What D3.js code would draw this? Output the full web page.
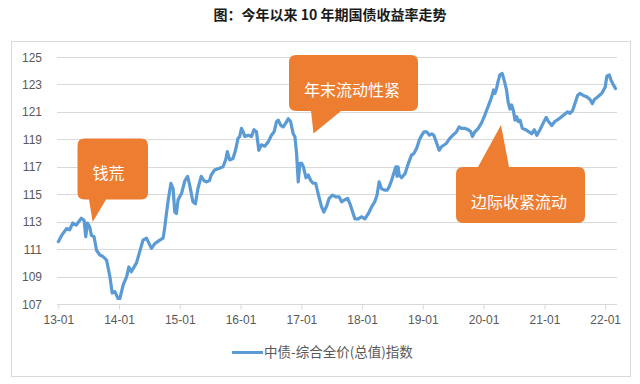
<!DOCTYPE html>
<html><head><meta charset="utf-8">
<script src="https://cdn.jsdelivr.net/npm/d3@7"></script>
<style>
html,body{margin:0;padding:0;background:#fff;}
svg{display:block;font-family:"Noto Sans CJK SC","Liberation Sans",sans-serif;}
</style></head>
<body>
<svg id="c" width="640" height="384"></svg>
<script>
const title = "图：今年以来 10 年期国债收益率走势";
const seriesName = "中债-综合全价(总值)指数";
const yTicks = [107,109,111,113,115,117,119,121,123,125];
const xTickYears = ["2013-01-01","2014-01-01","2015-01-01","2016-01-01","2017-01-01","2018-01-01","2019-01-01","2020-01-01","2021-01-01","2022-01-01"];
const dates = ["2013-01-01","2013-01-21","2013-02-20","2013-03-10","2013-03-29","2013-04-19","2013-05-19","2013-06-05","2013-06-15","2013-06-25","2013-07-09","2013-07-19","2013-08-04","2013-08-19","2013-09-08","2013-09-27","2013-10-18","2013-11-07","2013-11-21","2013-12-07","2013-12-26","2014-01-06","2014-01-26","2014-02-16","2014-03-01","2014-03-16","2014-04-16","2014-05-05","2014-05-25","2014-06-15","2014-07-15","2014-08-04","2014-09-03","2014-09-23","2014-10-03","2014-10-13","2014-10-24","2014-11-09","2014-11-22","2014-12-02","2014-12-12","2014-12-22","2015-01-12","2015-02-01","2015-02-17","2015-03-01","2015-03-21","2015-04-05","2015-04-20","2015-05-10","2015-05-26","2015-06-10","2015-06-29","2015-07-09","2015-07-29","2015-08-28","2015-09-18","2015-10-04","2015-10-14","2015-10-28","2015-11-17","2015-12-02","2015-12-17","2015-12-27","2016-01-07","2016-01-17","2016-01-27","2016-02-16","2016-03-07","2016-03-22","2016-04-06","2016-04-20","2016-05-06","2016-05-26","2016-06-15","2016-07-05","2016-07-21","2016-08-05","2016-08-15","2016-08-31","2016-09-14","2016-09-30","2016-10-14","2016-10-28","2016-11-13","2016-11-23","2016-12-03","2016-12-13","2016-12-23","2017-01-03","2017-01-13","2017-01-29","2017-02-12","2017-02-26","2017-03-12","2017-03-28","2017-04-11","2017-05-02","2017-05-16","2017-06-01","2017-06-17","2017-07-07","2017-07-27","2017-08-16","2017-08-31","2017-09-20","2017-10-06","2017-10-20","2017-11-05","2017-11-19","2017-12-09","2017-12-29","2018-01-18","2018-02-08","2018-02-28","2018-03-18","2018-04-01","2018-04-13","2018-04-28","2018-05-17","2018-06-01","2018-06-13","2018-06-27","2018-07-07","2018-07-23","2018-07-30","2018-08-05","2018-08-12","2018-08-26","2018-09-16","2018-10-06","2018-10-25","2018-11-09","2018-11-25","2018-12-11","2018-12-25","2019-01-09","2019-01-24","2019-02-10","2019-02-24","2019-03-08","2019-03-23","2019-04-09","2019-04-23","2019-05-22","2019-06-12","2019-07-01","2019-07-22","2019-08-07","2019-08-21","2019-09-10","2019-10-01","2019-10-16","2019-10-26","2019-11-10","2019-11-30","2019-12-20","2020-01-05","2020-01-19","2020-02-04","2020-02-19","2020-03-01","2020-03-09","2020-03-19","2020-03-28","2020-04-08","2020-04-22","2020-05-04","2020-05-18","2020-05-28","2020-06-08","2020-06-18","2020-06-28","2020-07-08","2020-07-18","2020-07-27","2020-08-07","2020-08-21","2020-09-10","2020-09-30","2020-10-16","2020-11-01","2020-11-16","2020-12-05","2020-12-25","2021-01-11","2021-01-25","2021-02-14","2021-03-04","2021-03-24","2021-04-14","2021-05-04","2021-05-20","2021-06-03","2021-06-19","2021-07-03","2021-07-19","2021-08-02","2021-08-22","2021-09-12","2021-10-02","2021-10-16","2021-10-28","2021-11-18","2021-12-11","2022-01-01","2022-01-11","2022-01-25","2022-02-06","2022-02-20","2022-03-04"];
const values = [111.54,112.0,112.5,112.4,112.9,112.75,113.25,113.1,111.9,112.9,112.6,112.0,111.9,110.9,110.57,110.45,110.2,109.0,107.8,107.9,107.4,107.4,108.4,109.0,109.7,109.35,110.0,110.8,111.65,111.8,111.05,111.4,111.65,111.8,112.6,113.6,114.6,115.8,115.4,113.7,113.6,114.6,115.07,116.0,116.3,115.7,114.45,114.3,115.4,116.3,116.0,115.9,116.0,116.4,116.76,116.9,117.0,117.5,118.1,117.5,117.6,118.2,119.07,119.2,119.8,119.55,119.2,119.3,119.2,119.7,119.55,118.2,118.6,118.5,118.8,119.3,119.55,120.3,120.4,120.0,119.9,120.2,120.5,120.3,119.4,119.2,118.0,115.9,117.25,117.25,117.0,116.2,116.4,116.0,115.8,115.8,115.07,114.1,113.7,114.1,114.7,114.94,114.8,114.8,114.45,114.6,114.7,114.3,113.7,113.2,113.2,113.36,113.2,113.6,114.1,114.45,114.94,115.9,115.4,115.3,115.3,115.55,116.0,116.4,117.0,116.3,117.0,116.4,116.2,116.5,117.25,117.85,117.98,118.35,118.95,119.3,119.55,119.55,119.3,119.4,119.3,118.8,118.2,118.46,118.7,119.07,119.3,119.55,119.9,119.8,119.8,119.7,119.55,119.2,119.55,119.8,120.2,120.65,121.1,121.6,122.1,122.6,122.35,122.7,123.2,123.7,123.8,123.3,122.6,121.7,121.2,121.5,121.1,120.4,120.65,120.3,120.4,119.8,119.7,119.55,119.4,119.7,119.3,119.7,120.2,120.6,120.3,120.0,120.3,120.45,120.65,120.85,121.0,120.9,121.1,121.6,122.2,122.35,122.2,122.1,121.9,121.6,121.9,122.1,122.35,122.8,123.6,123.7,123.3,122.95,122.7];
const callouts = [
  {text:"钱荒"},
  {text:"年末流动性紧"},
  {text:"边际收紧流动"}
];

const parse = d3.timeParse("%Y-%m-%d");
const data = dates.map((d,i)=>({date:parse(d), value:values[i]}));
const svg = d3.select("#c");

// outer frame
svg.append("rect").attr("x",11.5).attr("y",41.5).attr("width",619).attr("height",335)
  .attr("fill","none").attr("stroke","#d9d9d9").attr("stroke-width",1);

// title
svg.append("text").attr("x",330).attr("y",20).attr("text-anchor","middle")
  .attr("font-size",14).attr("font-weight","bold").attr("fill","#1a1a1a").text(title);

const x = d3.scaleTime().domain([parse("2013-01-01"), parse("2022-03-13")]).range([58.3, 617]);
const y = d3.scaleLinear().domain([107,125]).range([304,57]);

// gridlines
svg.append("g").selectAll("line").data(yTicks.slice(1)).join("line")
  .attr("x1",57).attr("x2",617).attr("y1",d=>Math.round(y(d))+0.5).attr("y2",d=>Math.round(y(d))+0.5)
  .attr("stroke","#d9d9d9").attr("stroke-width",1);

// y labels
svg.append("g").selectAll("text").data(yTicks).join("text")
  .attr("x",42).attr("y",d=>y(d)+4.5).attr("text-anchor","end")
  .attr("font-size",12).attr("fill","#595959").attr("font-family","Liberation Sans, Arial, sans-serif").text(d=>d);

// x axis
const xAxis = d3.axisBottom(x).tickValues(xTickYears.map(parse)).tickFormat(d3.timeFormat("%y-%m")).tickSizeInner(5).tickSizeOuter(0).tickPadding(6);
const gx = svg.append("g").attr("transform",`translate(0,${Math.round(y(107))+0.5})`).call(xAxis);
gx.select(".domain").attr("stroke","#d9d9d9").attr("d","M57,0H617");
gx.selectAll(".tick line").attr("stroke","#d9d9d9");
gx.selectAll(".tick text").attr("fill","#595959").attr("font-size",12).attr("font-family","Liberation Sans, Arial, sans-serif");

// line
const line = d3.line().x(d=>x(d.date)).y(d=>y(d.value));
svg.append("path").datum(data).attr("d",line).attr("fill","none")
  .attr("stroke","#5b9bd5").attr("stroke-width",3.2).attr("stroke-linejoin","round").attr("stroke-linecap","round");

// callouts
function bubble(x0,y0,x1,y1,r,tail){ // tail: {side, a, b, tx, ty}
  let p = `M${x0+r},${y0}`;
  if(tail.side==="top"){ p += `H${tail.a}L${tail.tx},${tail.ty}L${tail.b},${y0}`; }
  p += `H${x1-r}Q${x1},${y0} ${x1},${y0+r}V${y1-r}Q${x1},${y1} ${x1-r},${y1}`;
  if(tail.side==="bottom"){ p += `H${tail.b}L${tail.tx},${tail.ty}L${tail.a},${y1}`; }
  p += `H${x0+r}Q${x0},${y1} ${x0},${y1-r}V${y0+r}Q${x0},${y0} ${x0+r},${y0}Z`;
  return p;
}
const shapes = [
  {box:[77.5,138.5,148,199.5], tail:{side:"bottom",a:89,b:106,tx:92.7,ty:222}, tx:108.5, ty:173},
  {box:[289,55,418,111], tail:{side:"bottom",a:311,b:341,tx:313.5,ty:133.5}, tx:352, ty:90},
  {box:[456,167,585,223], tail:{side:"top",a:478,b:509,tx:501,ty:125}, tx:519, ty:202}
];
callouts.forEach((c,i)=>{
  const s = shapes[i];
  svg.append("path").attr("d",bubble(...s.box,7,s.tail)).attr("fill","#ed7d31");
  svg.append("text").attr("x",s.tx).attr("y",s.ty).attr("dy","0.36em").attr("text-anchor","middle")
    .attr("font-size",16).attr("fill","#ffffff").text(c.text);
});

// legend
svg.append("line").attr("x1",232).attr("x2",263).attr("y1",352.5).attr("y2",352.5)
  .attr("stroke","#5b9bd5").attr("stroke-width",3);
svg.append("text").attr("x",264).attr("y",352.5).attr("dy","0.36em").attr("font-size",13.5)
  .attr("fill","#595959").text(seriesName);
</script>
</body></html>
